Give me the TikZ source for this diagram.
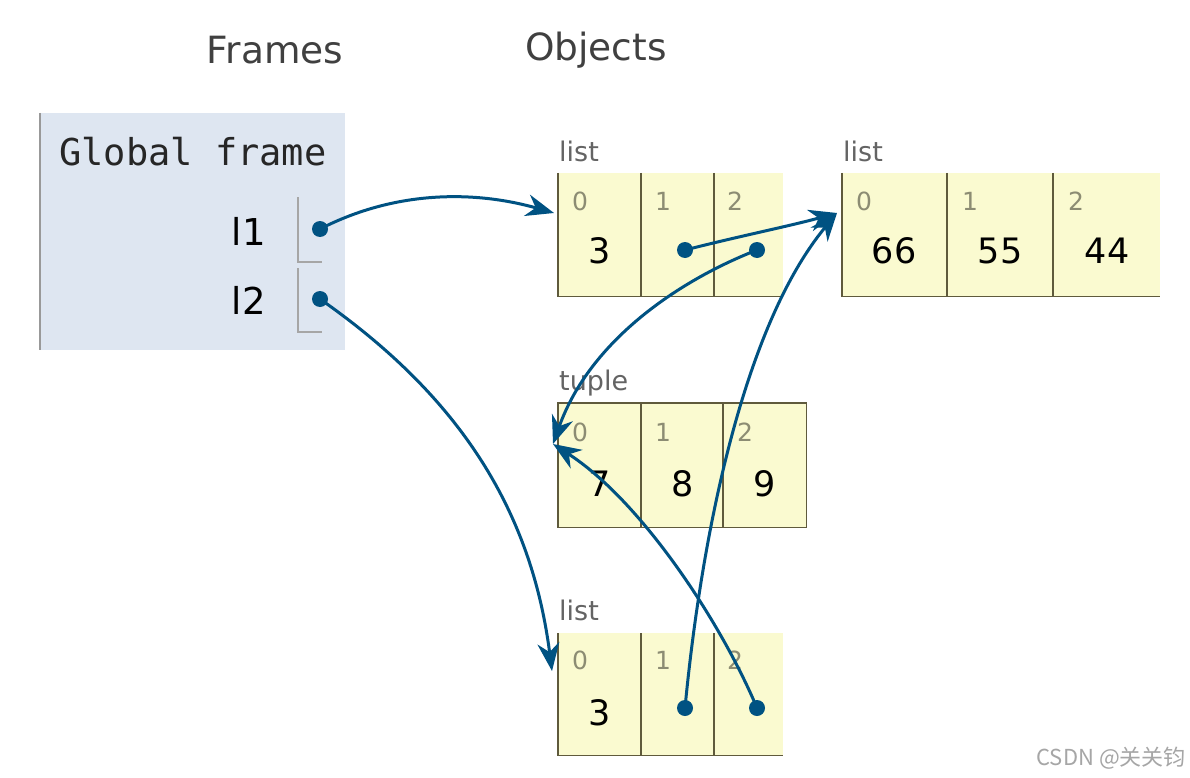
\documentclass[tikz,border=0pt]{standalone}
\usepackage{fontspec}
\setmainfont{DejaVu Sans}
\newfontfamily\monofnt{DejaVu Sans Mono}
\newfontfamily\cjkfnt{Noto Sans CJK SC}
\usetikzlibrary{arrows.meta,calc}
\definecolor{ptrblue}{RGB}{0,82,130}
\definecolor{cellyellow}{RGB}{250,250,208}
\definecolor{framebg}{RGB}{222,230,241}
\definecolor{cellborder}{RGB}{95,90,60}
\definecolor{idxgray}{RGB}{140,140,115}
\definecolor{typegray}{RGB}{100,100,100}
\tikzset{
  heading/.style={font=\fontsize{37.5}{44}\selectfont, text=black!75, inner sep=0pt},
  typelabel/.style={font=\fontsize{27}{32}\selectfont, text=typegray, anchor=base west, inner sep=0pt},
  idx/.style={font=\fontsize{25}{30}\selectfont, text=idxgray, anchor=base west, inner sep=0pt},
  val/.style={font=\fontsize{35}{40}\selectfont, text=black, anchor=base, inner sep=0pt},
  varname/.style={font=\fontsize{37}{42}\selectfont, text=black, anchor=base east, inner sep=0pt},
  objbox/.style={fill=cellyellow, draw=none, anchor=north west, inner sep=0pt},
  cellline/.style={draw=cellborder, line width=1.3pt},
  ptrline/.style={draw=black!35, line width=1.2pt},
  dot/.style={circle, fill=ptrblue, minimum size=16pt, inner sep=0pt},
  ptr/.style={draw=ptrblue, line width=3pt, -{Stealth[length=28pt,width=22pt,inset=9pt]}},
}
\begin{document}
\begin{tikzpicture}[x=1pt,y=-1pt]
\useasboundingbox[fill=white] (0,0) rectangle (1190,778);

% headings
\node[heading] (hframes) at (275,50) {Frames};
\node[heading] (hobjects) at (596,50) {Objects};

% global frame
\node[fill=framebg, anchor=north west, minimum width=305pt, minimum height=237pt, inner sep=0pt] (gf) at (40,113) {};
\draw[black!40, line width=1.2pt] (gf.north west) -- (gf.south west);
\node[font=\monofnt\fontsize{37}{42}\selectfont, text=black!85, anchor=base west, inner sep=0pt] (gftitle) at (59,166) {Global frame};
\node[varname] (vl1) at (266,245) {l1};
\node[varname] (vl2) at (266,314) {l2};
\draw[ptrline] (298,197) -- (298,262) -- (322,262);
\draw[ptrline] (298,268) -- (298,332) -- (322,332);
\node[dot] (d1) at (320,229) {};
\node[dot] (d2) at (320,299) {};

% list 1
\node[typelabel] (t1) at (559,162) {list};
\node[objbox, minimum width=225pt, minimum height=123pt] (L1) at (558,173) {};
\draw[cellline] (L1.north west) -- (L1.south west) -- (L1.south east);
\draw[cellline] (641,173) -- (641,296);
\draw[cellline] (714,173) -- (714,296);
\node[idx] (L1i0) at (572,210) {0};
\node[idx] (L1i1) at (655,210) {1};
\node[idx] (L1i2) at (727,210) {2};
\node[val] (L1v0) at (600,263) {3};
\node[dot] (p11) at (685,250) {};
\node[dot] (p12) at (757,250) {};

% list 2
\node[typelabel] (t2) at (843,162) {list};
\node[objbox, minimum width=318pt, minimum height=123pt] (L2) at (842,173) {};
\draw[cellline] (L2.north west) -- (L2.south west) -- (L2.south east);
\draw[cellline] (947,173) -- (947,296);
\draw[cellline] (1053,173) -- (1053,296);
\node[idx] (L2i0) at (856,210) {0};
\node[idx] (L2i1) at (962,210) {1};
\node[idx] (L2i2) at (1068,210) {2};
\node[val] (L2v0) at (894,263) {66};
\node[val] (L2v1) at (1000,263) {55};
\node[val] (L2v2) at (1107,263) {44};

% tuple
\node[typelabel] (t3) at (559,390) {tuple};
\node[objbox, minimum width=248pt, minimum height=124pt] (T) at (558,403) {};
\draw[cellline] (T.north west) rectangle (T.south east);
\draw[cellline] (641,403) -- (641,527);
\draw[cellline] (723,403) -- (723,527);
\node[idx] (Ti0) at (572,441) {0};
\node[idx] (Ti1) at (655,441) {1};
\node[idx] (Ti2) at (737,441) {2};
\node[val] (Tv0) at (600,496) {7};
\node[val] (Tv1) at (683,496) {8};
\node[val] (Tv2) at (765,496) {9};

% list 3
\node[typelabel] (t4) at (559,620) {list};
\node[objbox, minimum width=225pt, minimum height=122pt] (L3) at (558,633) {};
\draw[cellline] (L3.north west) -- (L3.south west) -- (L3.south east);
\draw[cellline] (641,633) -- (641,755);
\draw[cellline] (714,633) -- (714,755);
\node[idx] (L3i0) at (572,669) {0};
\node[idx] (L3i1) at (655,669) {1};
\node[idx] (L3i2) at (727,669) {2};
\node[val] (L3v0) at (600,725) {3};
\node[dot] (p31) at (685,708) {};
\node[dot] (p32) at (757,708) {};

% target points
\coordinate (L1in) at ($(L1.north west)+(-4,40)$);
\coordinate (L2in) at ($(L2.north west)+(-5,40)$);
\coordinate (Tin) at ($(T.north west)+(-5,41)$);
\coordinate (L3in) at ($(L3.north west)+(-6,38)$);

% pointers
\draw[ptr] (d1.center) .. controls (400,188) and (480,192) .. (L1in);
\draw[ptr] (d2.center) .. controls (450,390) and (530,500) .. (L3in);
\draw[ptr] (p11.center) .. controls (740,236) and (790,226) .. (L2in);
\draw[ptr] (p12.center) .. controls (680,280) and (590,340) .. (Tin);
\draw[ptr] (p31.center) .. controls (700,550) and (740,330) .. (L2in);
\draw[ptr] (p32.center) .. controls (720,620) and (640,500) .. (Tin);

% watermark
\node[font=\cjkfnt\fontsize{22}{26}\selectfont, text=black!35, anchor=base east, inner sep=0pt] (wm) at (1186,765) {CSDN @关关钧};
\end{tikzpicture}
\end{document}
